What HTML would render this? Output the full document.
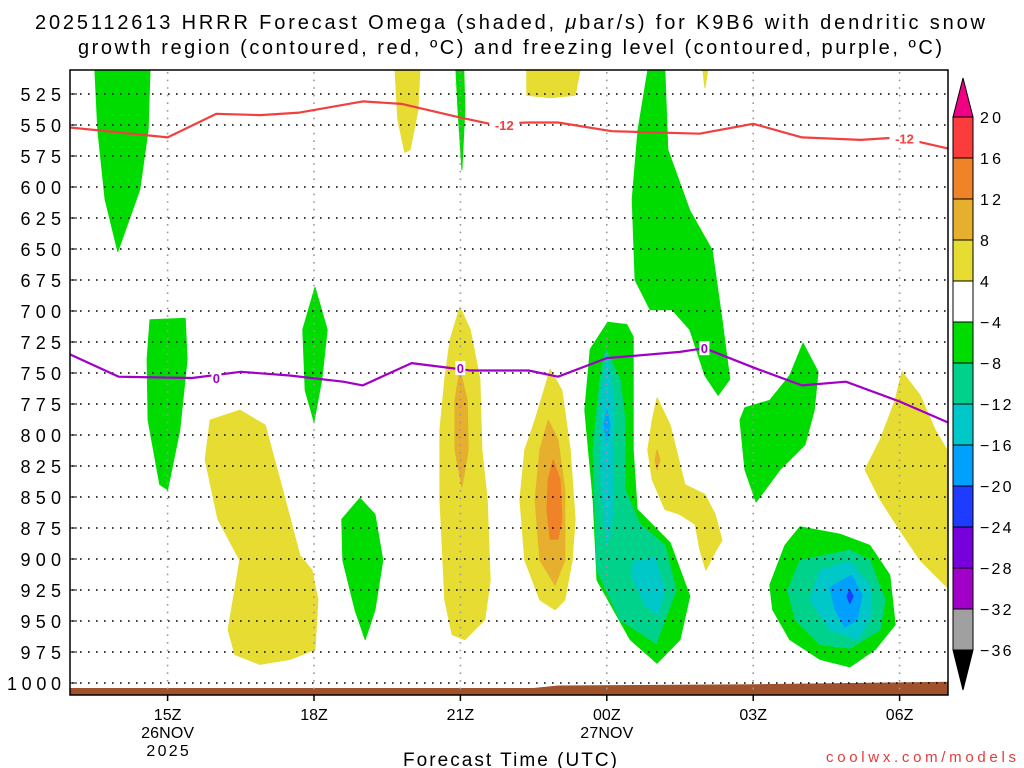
<!DOCTYPE html>
<html><head><meta charset="utf-8"><style>
html,body{margin:0;padding:0;background:#fff;width:1024px;height:768px;overflow:hidden}
svg{display:block;font-family:"Liberation Sans",sans-serif}
</style></head><body>
<svg id="chart" width="1024" height="768" viewBox="0 0 1024 768" xmlns="http://www.w3.org/2000/svg">
<text x="35" y="29" font-size="20" textLength="950" lengthAdjust="spacing">2025112613 HRRR Forecast Omega (shaded, <tspan font-style="italic">μ</tspan>bar/s) for K9B6 with dendritic snow</text>
<text x="78" y="54" font-size="20" textLength="864" lengthAdjust="spacing">growth region (contoured, red, ºC) and freezing level (contoured, purple, ºC)</text>
<defs><clipPath id="plotclip"><rect x="70" y="70" width="878" height="625"/></clipPath></defs>
<g id="fills" clip-path="url(#plotclip)"></g>
<g id="grid"></g>
<g id="lines" clip-path="url(#plotclip)"></g>
<rect x="70" y="70" width="878" height="625" fill="none" stroke="#000" stroke-width="1.5"/>
<g id="axes"></g>
<g id="cbar"></g>
<text x="403" y="766" font-size="19" textLength="214" lengthAdjust="spacing">Forecast Time (UTC)</text>
<text x="826" y="762" font-size="15" fill="#e03c3c" textLength="190" lengthAdjust="spacing">coolwx.com/models</text>
</svg>
<script>
// hours since 13Z 26NOV; pressure in hPa
const xTickHours = [2, 5, 8, 11, 14, 17];
const xTickLabels = ["15Z", "18Z", "21Z", "00Z", "03Z", "06Z"];
const xTickDates = ["26NOV\n2025", "", "", "27NOV", "", ""];
const yTicks = [525,550,575,600,625,650,675,700,725,750,775,800,825,850,875,900,925,950,975,1000];
const cbarLevels = [20,16,12,8,4,-4,-8,-12,-16,-20,-24,-28,-32,-36];
const cbarColors = ["#fa3c3c","#f08228","#e6af2d","#e6dc32","#ffffff","#00dc00","#00d28c","#00c8c8","#00a0ff","#1e3cff","#7800dc","#a000c8","#a0a0a0"];

const redHours = [0,1,2,3,3.9,4.7,6,6.8,8,8.6,9.4,10,11.1,12.9,14,15,16.2,17,18];
const redPres  = [552,556,560,541,542,540,531,533,544,549,548,548,555,557,549,560,562,560,569];
const purpleHours = [0,1,2.5,3.5,4.5,5.6,6,7,8.2,9.4,10,11,12.5,13,14.1,15,15.9,17,18];
const purplePres  = [735,753,754,749,752,757,760,742,748,748,753,738,733,730,747,760,757,773,790];
const groundHours = [0,9.5,10,14,18];
const groundPres  = [1004,1004,1002,1001,999];

const regions = [
 ["g",[[0.51,506],[1.64,506],[1.6,554],[1.43,602],[0.98,652],[0.72,610],[0.57,554]]],
 ["g",[[1.64,707],[2.36,706],[2.4,739],[2.25,796],[2.0,844],[1.84,840],[1.6,788],[1.58,739]]],
 ["g",[[4.77,715],[5.02,681],[5.27,715],[5.16,755],[5.0,789],[4.82,764]]],
 ["g",[[7.91,506],[8.07,506],[8.09,538],[8.03,586],[7.95,538]]],
 ["g",[[5.57,868],[5.94,851],[6.25,864],[6.41,901],[6.25,941],[6.05,965],[5.84,941],[5.59,901]]],
 ["g",[[11.84,506],[12.19,506],[12.25,570],[12.7,619],[13.16,651],[13.36,707],[13.52,755],[13.28,768],[13.01,752],[12.7,715],[12.34,699],[11.89,699],[11.58,675],[11.52,610],[11.64,554]]],
 ["g",[[11.02,709],[11.41,711],[11.54,721],[11.54,812],[11.62,860],[12.3,887],[12.7,930],[12.5,965],[12.03,984],[11.48,965],[10.8,917],[10.72,852],[10.55,780],[10.66,731]]],
 ["t",[[10.98,731],[11.27,755],[11.37,788],[11.37,844],[11.68,872],[12.19,889],[12.42,925],[12.01,968],[11.27,949],[10.8,909],[10.72,812],[10.86,755]]],
 ["c",[[11.0,735],[11.15,772],[11.11,868],[11.0,889],[10.88,836],[10.88,772]]],
 ["c",[[11.54,902],[11.99,899],[12.19,925],[12.05,945],[11.78,937],[11.52,915]]],
 ["lb",[[11.0,780],[11.07,792],[11.0,804],[10.94,792]]],
 ["g",[[15.02,726],[15.33,749],[15.25,780],[15.06,808],[14.55,828],[14.06,854],[13.83,828],[13.73,788],[13.83,778],[14.34,772],[14.75,752]]],
 ["g",[[14.96,874],[15.78,880],[16.39,889],[16.8,913],[16.91,953],[16.5,973],[15.98,987],[15.37,981],[14.75,965],[14.4,941],[14.34,921],[14.65,889]]],
 ["t",[[14.96,901],[15.98,893],[16.39,901],[16.7,933],[16.6,957],[15.98,972],[15.37,969],[14.86,949],[14.71,925]]],
 ["c",[[15.37,909],[15.98,902],[16.39,921],[16.43,945],[16.15,965],[15.57,957],[15.16,933]]],
 ["lb",[[15.57,923],[16.02,913],[16.23,929],[16.13,949],[15.88,955],[15.68,941]]],
 ["b",[[15.98,925],[16.05,930],[15.98,936],[15.92,930]]],
 ["y",[[6.66,506],[7.17,506],[7.13,538],[6.97,570],[6.86,572],[6.72,546]]],
 ["y",[[9.36,506],[10.45,506],[10.35,526],[9.84,528],[9.36,526]]],
 ["y",[[12.97,506],[13.07,506],[13.01,520]]],
 ["y",[[2.87,788],[3.48,780],[4.0,792],[4.41,852],[4.71,897],[4.96,909],[5.08,933],[5.02,973],[4.51,981],[3.89,985],[3.38,977],[3.24,957],[3.48,901],[3.03,868],[2.77,820]]],
 ["y",[[7.99,697],[8.2,715],[8.4,755],[8.44,812],[8.55,852],[8.61,917],[8.5,949],[8.09,965],[7.83,961],[7.68,933],[7.58,852],[7.58,796],[7.68,755],[7.79,723]]],
 ["yo",[[7.99,747],[8.14,772],[8.16,812],[8.03,842],[7.89,812],[7.89,772]]],
 ["y",[[9.84,747],[10.08,764],[10.25,812],[10.35,868],[10.29,901],[10.14,933],[9.94,941],[9.63,933],[9.32,901],[9.22,852],[9.32,812],[9.53,788]]],
 ["yo",[[9.8,788],[10.0,804],[10.14,844],[10.14,901],[9.94,921],[9.63,901],[9.53,852],[9.63,812]]],
 ["o",[[9.9,820],[10.04,836],[10.08,868],[10.0,884],[9.84,884],[9.77,860],[9.8,836]]],
 ["y",[[12.03,770],[12.3,792],[12.6,840],[13.01,848],[13.22,864],[13.36,885],[13.24,893],[13.03,909],[12.91,893],[12.81,872],[12.5,864],[12.19,860],[11.93,836],[11.84,812],[11.93,788]]],
 ["yo",[[12.03,812],[12.09,820],[12.03,828],[11.99,820]]],
 ["y",[[17.05,749],[17.42,768],[17.73,796],[18.03,816],[18.03,925],[17.83,917],[17.42,901],[17.01,877],[16.6,852],[16.29,828],[16.6,804],[16.91,772]]]
];
const regionColors = {g:"#00dc00",t:"#00d28c",c:"#00c8c8",lb:"#00a0ff",b:"#1e3cff",y:"#e6dc32",yo:"#e6af2d",o:"#f08228"};

const X0=70, XPX=48.8, Y525=94, YPX=1.24;
function xs(h){return X0+h*XPX;}
function ys(p){return Y525+(p-525)*YPX;}
const NS="http://www.w3.org/2000/svg";
function mk(tag,attrs,parent){const e=document.createElementNS(NS,tag);for(const k in attrs)e.setAttribute(k,attrs[k]);parent.appendChild(e);return e;}

const fills=document.getElementById('fills');
regions.forEach((r,i)=>{
  const d=r[1].map((pt,j)=>(j?'L':'M')+xs(pt[0]).toFixed(1)+','+ys(pt[1]).toFixed(1)).join('')+'Z';
  const p=mk('path',{d:d,fill:regionColors[r[0]],stroke:regionColors[r[0]],'stroke-width':1,'stroke-linejoin':'round'},fills);
  
  
});
{
  let d='M'+xs(groundHours[0])+','+ys(1012);
  groundHours.forEach((h,i)=>{d+='L'+xs(h)+','+ys(groundPres[i]);});
  d+='L'+xs(groundHours[groundHours.length-1])+','+ys(1012)+'Z';
  const g=mk('path',{d:d,fill:'#a0522d'},fills);
  
  
}
const grid=document.getElementById('grid');
yTicks.forEach(p=>{
  const l=mk('line',{x1:72,x2:946,y1:ys(p),y2:ys(p),stroke:'#000','stroke-width':1.6,'stroke-dasharray':'1.6 6.4'},grid);
  
  
});
xTickHours.forEach(h=>{
  const l=mk('line',{x1:xs(h),x2:xs(h),y1:72,y2:693,stroke:'#999','stroke-width':1.6,'stroke-dasharray':'1.6 6'},grid);
  
  
});
const lines=document.getElementById('lines');
function poly(hs,ps,color,name){
  const pts=hs.map((h,i)=>xs(h).toFixed(1)+','+ys(ps[i]).toFixed(1)).join(' ');
  const e=mk('polyline',{points:pts,fill:'none',stroke:color,'stroke-width':2.2,'stroke-linejoin':'round'},lines);
  
  
}
poly(redHours,redPres,'#f04040','dgz-minus12-contour');
poly(purpleHours,purplePres,'#a000c8','freezing-level-contour');
function clabel(h,p,txt,color,name){
  const bg=mk('rect',{x:xs(h)-(txt.length*5),y:ys(p)-7,width:txt.length*10,height:14,fill:'#fff'},lines);
  
  
  const t=mk('text',{x:xs(h),y:ys(p)+5,'font-size':13,'font-weight':'bold',fill:color,'text-anchor':'middle'},lines);
  t.textContent=txt;
  
  
}
clabel(8.9,550,'-12','#f04040','contour-label-minus12');
clabel(17.1,561,'-12','#f04040','contour-label-minus12-b');
clabel(3.0,754,'0','#a000c8','contour-label-zero');
clabel(8.0,746,'0','#a000c8','contour-label-zero-b');
clabel(13.0,730,'0','#a000c8','contour-label-zero-c');
const axes=document.getElementById('axes');
yTicks.forEach(p=>{
  const s=String(p);
  const w=s.length*13.5;
  const t=mk('text',{x:61-w,y:ys(p)+7,'font-size':18,textLength:w,lengthAdjust:'spacing'},axes);
  t.textContent=s;
  
  
  const tk=mk('line',{x1:70,x2:77,y1:ys(p),y2:ys(p),stroke:'#000','stroke-width':1},axes);
  
  
});
xTickHours.forEach((h,i)=>{
  const tk=mk('line',{x1:xs(h),x2:xs(h),y1:695,y2:701,stroke:'#000','stroke-width':1.5},axes);
  
  
  const s0=xTickLabels[i];
  const t=mk('text',{x:xs(h)-s0.length*4.6,y:720,'font-size':16,textLength:s0.length*9.2,lengthAdjust:'spacing'},axes);
  t.textContent=s0;
  
  
  xTickDates[i].split('\n').forEach((s,k)=>{
    if(!s)return;
    const d=mk('text',{x:xs(h)-s.length*5.3,y:738+k*18,'font-size':16,textLength:s.length*10.6,lengthAdjust:'spacing'},axes);
    d.textContent=s;
    
    
  });
});
const cb=document.getElementById('cbar');
const CBX=953, CBW=20, CBTOP=117, CBSTEP=41;
function cy(i){return CBTOP+i*CBSTEP;}
const tri1=mk('path',{d:`M${CBX},${cy(0)}L${CBX+CBW/2},78L${CBX+CBW},${cy(0)}Z`,fill:'#f00082',stroke:'#000','stroke-width':1},cb);


cbarColors.forEach((c,i)=>{
  const r=mk('rect',{x:CBX,y:cy(i),width:CBW,height:CBSTEP,fill:c,stroke:'#000','stroke-width':1},cb);
  
  
});
const tri2=mk('path',{d:`M${CBX},${cy(cbarColors.length)}L${CBX+CBW/2},690L${CBX+CBW},${cy(cbarColors.length)}Z`,fill:'#000',stroke:'#000','stroke-width':1},cb);


cbarLevels.forEach((v,i)=>{
  const s=(v<0?'\u2212':'')+Math.abs(v);
  const t=mk('text',{x:980,y:cy(i)+6,'font-size':16,textLength:s.length*10.5,lengthAdjust:'spacing'},cb);
  t.textContent=s;
  
  
});
</script>
</body></html>
